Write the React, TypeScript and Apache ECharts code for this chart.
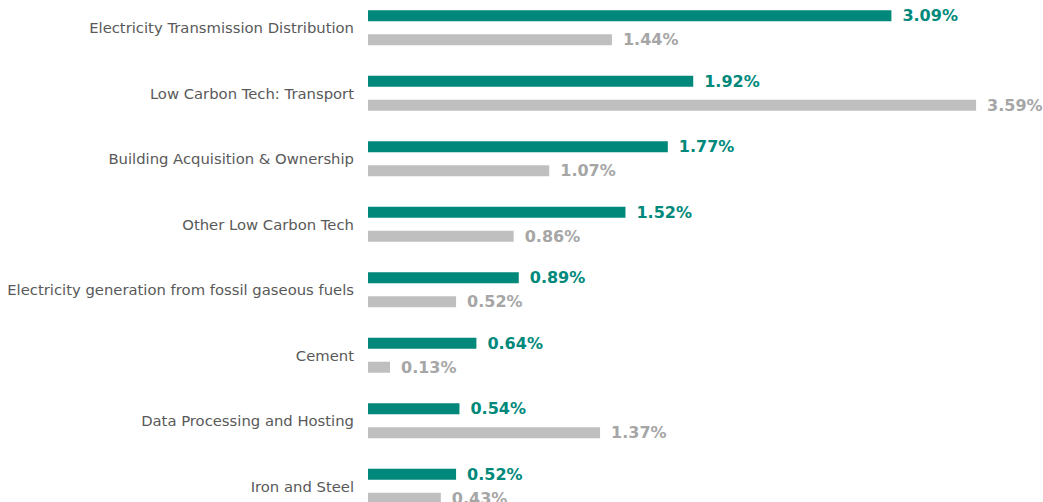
import React, { useEffect, useRef } from "react";
import * as echarts from "echarts";

const categories = [
  "Electricity Transmission Distribution",
  "Low Carbon Tech: Transport",
  "Building Acquisition & Ownership",
  "Other Low Carbon Tech",
  "Electricity generation from fossil gaseous fuels",
  "Cement",
  "Data Processing and Hosting",
  "Iron and Steel",
];
const seriesA = [3.09, 1.92, 1.77, 1.52, 0.89, 0.64, 0.54, 0.52];
const seriesB = [1.44, 3.59, 1.07, 0.86, 0.52, 0.13, 1.37, 0.43];

const GREEN = "#00897B";
const GREY = "#BFBFBF";
const GREY_LABEL = "#A6A6A6";

export default function App() {
  const ref = useRef<HTMLDivElement>(null);
  useEffect(() => {
    if (!ref.current) return;
    const chart = echarts.init(ref.current, undefined, { renderer: "svg" });
    const labelFmt = (p: any) => Number(p.value).toFixed(2) + "%";
    chart.setOption({
      animation: false,
      grid: { left: 368, top: 0, bottom: 0, right: 0, containLabel: false },
      xAxis: { type: "value", min: 0, max: 3.985, show: false },
      yAxis: {
        type: "category",
        data: categories,
        inverse: true,
        axisLine: { show: false },
        axisTick: { show: false },
        axisLabel: {
          margin: 14,
          color: "#595959",
          fontSize: 14.8,
          fontFamily: "DejaVu Sans",
        },
      },
      series: [
        {
          type: "bar",
          data: seriesA,
          barWidth: 11,
          barGap: "118%",
          itemStyle: { color: GREEN },
          label: {
            show: true,
            position: "right",
            distance: 11,
            formatter: labelFmt,
            color: GREEN,
            fontWeight: "bold",
            fontSize: 16,
            fontFamily: "DejaVu Sans",
          },
        },
        {
          type: "bar",
          data: seriesB,
          barWidth: 11,
          itemStyle: { color: GREY },
          label: {
            show: true,
            position: "right",
            distance: 11,
            formatter: labelFmt,
            color: GREY_LABEL,
            fontWeight: "bold",
            fontSize: 16,
            fontFamily: "DejaVu Sans",
          },
        },
      ],
    });
    return () => chart.dispose();
  }, []);
  return (
    <div
      ref={ref}
      style={{ position: "absolute", left: 0, top: -5, width: 1043, height: 524 }}
    />
  );
}
